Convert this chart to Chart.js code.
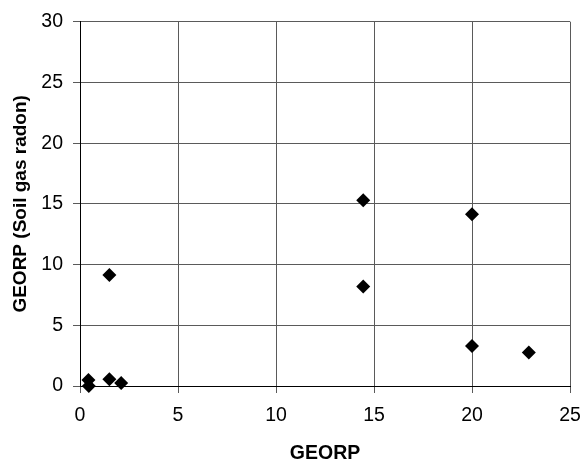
<!DOCTYPE html>
<html lang="en">
<head>
    <meta charset="UTF-8">
    <title>GEORP vs soil gas radon</title>
    <script src="https://cdn.jsdelivr.net/npm/chart.js"></script>
    <style>
        html, body { margin: 0; padding: 0; background: #fff; }
        #wrap { width: 584px; height: 468px; }
    </style>
</head>
<body>
    <div id="wrap"><canvas id="grafico" width="584" height="468"></canvas></div>

    <script>
        // valores
        const georp = [0.43, 0.45, 1.5, 2.1, 1.5, 14.45, 14.45, 20.0, 20.0, 22.9];
        const radonSuelo = [0.5, 0.0, 0.55, 0.25, 9.15, 15.3, 8.2, 14.15, 3.3, 2.75];
        const ticksX = [0, 5, 10, 15, 20, 25];
        const ticksY = [0, 5, 10, 15, 20, 25, 30];

        const puntos = georp.map((x, i) => ({ x: x, y: radonSuelo[i] }));
        const fuente = "'Liberation Sans', Arial, sans-serif";

        new Chart(document.getElementById("grafico").getContext("2d"), {
            type: "scatter",
            data: {
                datasets: [{
                    label: "GEORP (Soil gas radon)",
                    data: puntos,
                    clip: false,
                    pointStyle: "rectRot",
                    pointRadius: 7,
                    pointHoverRadius: 7,
                    backgroundColor: "#000",
                    borderColor: "#000",
                    borderWidth: 0
                }]
            },
            options: {
                responsive: false,
                animation: false,
                layout: { padding: { top: 20, right: 14, left: 0, bottom: 0 } },
                plugins: { legend: { display: false }, tooltip: { enabled: false } },
                scales: {
                    x: {
                        type: "linear",
                        min: 0,
                        max: 25,
                        afterBuildTicks: s => { s.ticks = ticksX.map(v => ({ value: v })); },
                        afterFit: s => { s.height = 82; },
                        border: { color: "#000", width: 1 },
                        grid: { color: "#5a5a5a", tickColor: "#5a5a5a", tickLength: 7 },
                        // lineHeight alto para bajar las etiquetas sin inflar el margen derecho
                        ticks: { color: "#000", padding: 3, font: { family: fuente, size: 19.5, lineHeight: 2.05 } },
                        title: {
                            display: true, text: "GEORP", color: "#000",
                            font: { family: fuente, size: 19.5, weight: "bold" },
                            padding: { top: 0, bottom: 3 }
                        }
                    },
                    y: {
                        type: "linear",
                        min: 0,
                        max: 30,
                        afterBuildTicks: s => { s.ticks = ticksY.map(v => ({ value: v })); },
                        afterFit: s => { s.width = 80; },
                        border: { color: "#000", width: 1 },
                        grid: { color: "#5a5a5a", tickColor: "#5a5a5a", tickLength: 7 },
                        ticks: { color: "#000", padding: 10, font: { family: fuente, size: 19.5 } },
                        title: {
                            display: true, text: "GEORP (Soil gas radon)", color: "#000",
                            font: { family: fuente, size: 19, weight: "bold" },
                            padding: { top: 9, bottom: 0 }
                        }
                    }
                }
            }
        });
    </script>
</body>
</html>
